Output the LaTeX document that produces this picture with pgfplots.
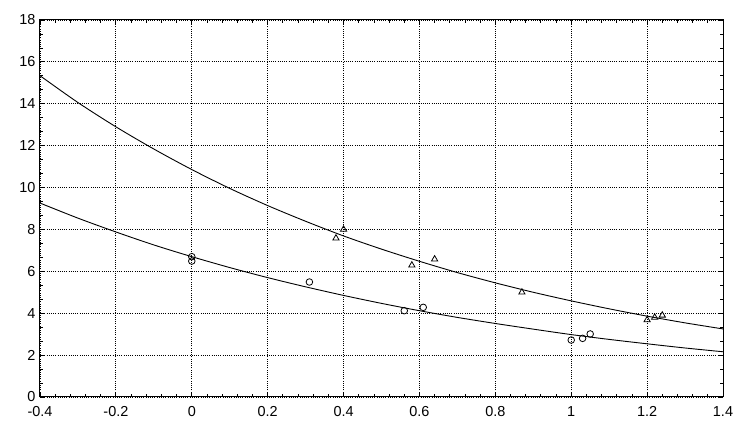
\documentclass[border=0pt]{standalone}
\usepackage{fontspec}
\setmainfont{Liberation Sans}
\usepackage{pgfplots}
\pgfplotsset{compat=1.18}
\begin{document}
\begin{tikzpicture}[x=1bp,y=1bp]
\begin{axis}[
  scale only axis,
  width=683bp, height=377bp,
  xmin=-0.4, xmax=1.4, ymin=0, ymax=18,
  xtick={-0.4,-0.2,0,0.2,0.4,0.6,0.8,1,1.2,1.4},
  xticklabels={-0.4,-0.2,0,0.2,0.4,0.6,0.8,1,1.2,1.4},
  ytick={0,2,4,6,8,10,12,14,16,18},
  yticklabels={0,2,4,6,8,10,12,14,16,18},
  minor x tick num=4,
  minor y tick num=2,
  tick align=inside,
  major tick length=4bp,
  minor tick length=3bp,
  tick style={black, line width=0.8bp},
  axis line style={black, line width=1bp},
  grid=major,
  major grid style={black, line width=0.8bp, dash pattern=on 1bp off 1.2bp},
  tick label style={font=\fontsize{14.5}{16}\selectfont},
  xticklabel style={yshift=-6bp},
  yticklabel style={xshift=-1bp},
  /pgf/number format/assume math mode=true,
  clip=true,
]
% fitted curves
\addplot[black, line width=0.9bp, smooth] coordinates {
(-0.4,15.34) (-0.3,14.06) (-0.2,12.90) (-0.1,11.84) (0,10.86) (0.1,9.96) (0.2,9.14)
(0.3,8.39) (0.4,7.69) (0.5,7.06) (0.6,6.48) (0.7,5.94) (0.8,5.45) (0.9,5.00)
(1.0,4.59) (1.1,4.21) (1.2,3.86) (1.3,3.54) (1.4,3.25)};
\addplot[black, line width=0.9bp, smooth] coordinates {
(-0.4,9.26) (-0.3,8.54) (-0.2,7.88) (-0.1,7.26) (0,6.70) (0.1,6.18) (0.2,5.70)
(0.3,5.26) (0.4,4.85) (0.5,4.47) (0.6,4.12) (0.7,3.80) (0.8,3.51) (0.9,3.24)
(1.0,2.98) (1.1,2.75) (1.2,2.54) (1.3,2.34) (1.4,2.16)};
% circles
\addplot[only marks, mark=o, mark size=3.3bp, mark options={black, line width=0.8bp}] coordinates {
(0,6.70) (0,6.49) (0.31,5.49) (0.56,4.12) (0.61,4.28) (1.0,2.72) (1.03,2.80) (1.05,3.01)};
% triangles
\addplot[only marks, mark=triangle, mark size=3.6bp, mark options={black, line width=0.8bp}] coordinates {
(0.40,8.00) (0.38,7.58) (0.58,6.29) (0.64,6.58) (0.87,5.00) (1.20,3.68) (1.22,3.80) (1.24,3.90)};
\end{axis}
\path ([shift={(-40bp,-37bp)}]current axis.south west) rectangle ([shift={(26bp,20bp)}]current axis.north east);
\end{tikzpicture}
\end{document}
